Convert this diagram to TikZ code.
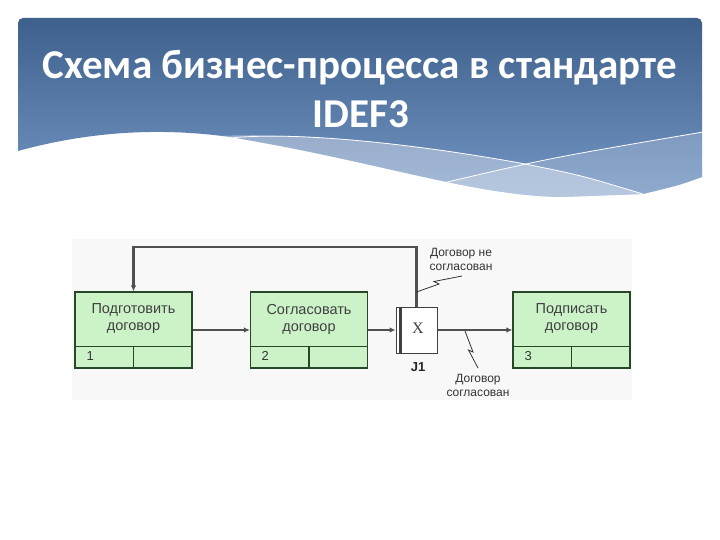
\documentclass[tikz,border=0pt]{standalone}
\usepackage{fontspec}
\setmainfont{Liberation Sans}
\newfontfamily\titlef{Carlito}
\newfontfamily\diagf{Liberation Sans}
\newfontfamily\serf{Liberation Serif}
\usetikzlibrary{arrows.meta}
\definecolor{hdtop}{RGB}{62,96,140}
\definecolor{hdbot}{RGB}{118,152,198}
\definecolor{boxfill}{RGB}{204,242,200}
\definecolor{boxline}{RGB}{40,70,40}
\definecolor{arrowc}{RGB}{80,80,80}
\definecolor{panel}{RGB}{248,248,248}
\tikzset{
  procbox/.style={draw=boxline, fill=boxfill, line width=1.2pt, minimum width=117pt, minimum height=76pt, inner sep=0pt},
  juncbox/.style={draw=arrowc!80!black, fill=white, line width=1pt, minimum width=41pt, minimum height=46pt, inner sep=0pt},
  flow/.style={draw=arrowc, line width=2.3pt, -{Latex[length=6pt,width=5.5pt]}},
  boxtext/.style={font=\diagf\fontsize{14.5}{17}\selectfont, text=black!75, align=center},
  numtext/.style={font=\diagf\fontsize{13}{15}\selectfont, text=black!80, anchor=west},
  lbl/.style={font=\diagf\fontsize{12}{14}\selectfont, text=black!80, align=center},
  squig/.style={draw=black!80, line width=0.8pt}
}
\begin{document}
\begin{tikzpicture}[x=1pt,y=-1pt]
\useasboundingbox (0,0) rectangle (720,540);
\fill[white] (0,0) rectangle (720,540);
% header
\begin{scope}
  \clip (10,10) -- (710,10) -- (702,177) .. controls (680,185) .. (643,194) -- (560,197)
        .. controls (470,195) and (380,162) .. (230,137) .. controls (150,126) and (80,134) .. (18,151) -- cycle;
  \shade[top color=hdtop, bottom color=hdbot, rounded corners=5pt] (18,18) rectangle (702,205);
  \fill[white, opacity=0.35] (200,137) .. controls (300,130) and (420,145) .. (520,163)
        .. controls (580,175) .. (643,194) -- (643,230) -- (200,230) -- cycle;
  \fill[white, opacity=0.2] (443,183) .. controls (550,158) .. (703,132) -- (710,230) -- (443,230) -- cycle;
  \draw[white, line width=0.8pt] (230,138) .. controls (300,131) and (420,145) .. (520,163)
        .. controls (580,175) .. (643,194);
  \draw[white, line width=0.8pt] (443,183) .. controls (550,158) .. (703,132);
\end{scope}
\node[font=\titlef\bfseries\fontsize{41}{48}\selectfont, text=white, anchor=base] (title1) at (360,79) {Схема бизнес-процесса в стандарте};
\node[font=\titlef\bfseries\fontsize{41}{48}\selectfont, text=white, anchor=base] (title2) at (361,128) {IDEF3};
% diagram panel
\fill[panel] (72,239) rectangle (632,400);
% boxes
\node[procbox] (b1) at (133.5,330) {};
\node[procbox] (b2) at (309,330) {};
\node[procbox] (b3) at (571.5,330) {};
\foreach \b in {b1,b2,b3}{
  \draw[boxline, line width=1.2pt] ([yshift=22.5pt]\b.south west) -- ([yshift=22.5pt]\b.south east);
  \draw[boxline, line width=1.2pt] ([yshift=22.5pt]\b.south) -- (\b.south);
}
\node[boxtext] (t1) at (133.5,319) {Подготовить\\договор};
\node[boxtext] (t2) at (309,319) {Согласовать\\договор};
\node[boxtext] (t3) at (571.5,319) {Подписать\\договор};
\node[numtext] (n1) at (83,356) {1};
\node[numtext] (n2) at (258,356) {2};
\node[numtext] (n3) at (521,356) {3};
% junction
\node[juncbox] (j1) at (416.5,330) {};
\draw[arrowc!80!black, line width=2.2pt] ([xshift=5pt]j1.north west) -- ([xshift=5pt]j1.south west);
\node[font=\serf\fontsize{16}{18}\selectfont, text=black!75] (jx) at (418,328) {X};
\node[font=\diagf\bfseries\fontsize{13}{15}\selectfont, text=black!85] (jl) at (418,367) {J1};
% connectors
\draw[flow] (b1.east) -- (b2.west);
\draw[flow] (b2.east) -- (j1.west);
\draw[flow] (j1.east) -- (b3.west);
\coordinate (fb) at (133.5,247);
\draw[flow] (j1.north) |- (fb) -- (b1.north);
% labels with squiggles
\node[lbl] (l1) at (461,259) {Договор не\\согласован};
\node[lbl] (l2) at (478,385) {Договор\\согласован};
\coordinate (s1a) at (416.5,292);
\coordinate (s1e) at (462,276);
\draw[squig] (s1a) -- (439,284) -- (434,281.5) -- (s1e);
\coordinate (s2a) at (465,331);
\coordinate (s2e) at (478,368);
\draw[squig] (s2a) -- (473,352) -- (468.5,350) -- (s2e);
\end{tikzpicture}
\end{document}
